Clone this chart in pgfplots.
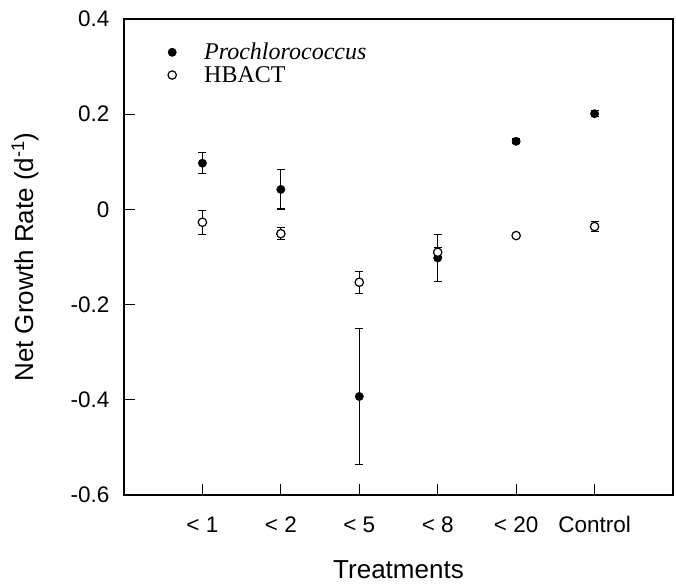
\documentclass[border=0pt]{standalone}
\usepackage{pgfplots}
\pgfplotsset{compat=1.18}
\usepackage{fontspec}
\setmainfont{Liberation Sans}
\newfontfamily\legfont{Liberation Serif}
\begin{document}
\begin{tikzpicture}
\begin{axis}[
  scale only axis,
  width=549pt, height=476pt,
  xmin=0, xmax=7, ymin=-0.6, ymax=0.4,
  axis line style={line width=1.3pt},
  xtick={1,2,3,4,5,6},
  xticklabels={{< 1},{< 2},{< 5},{< 8},{< 20},Control},
  ytick={-0.6,-0.4,-0.2,0,0.2,0.4},
  yticklabels={-0.6,-0.4,-0.2,0,0.2,0.4},
  tick align=inside,
  major tick length=11pt,
  xtick pos=lower, ytick pos=left,
  tick style={line width=1pt, black},
  ticklabel style={font=\fontsize{22.5}{26}\selectfont},
  xticklabel style={yshift=-18pt},
  yticklabel style={xshift=-11pt},
  /pgf/number format/assume math mode=true,
  xlabel={Treatments},
  ylabel={Net Growth Rate (d\textsuperscript{-1})},
  every axis x label/.style={at={(axis description cs:0.5,0)}, anchor=center, yshift=-75pt,
    font=\fontsize{26}{30}\selectfont},
  every axis y label/.style={at={(axis description cs:-0.1803,0.5)}, anchor=center, rotate=90,
    font=\fontsize{26}{30}\selectfont},
  legend style={draw=none, fill=none, at={(axis description cs:0,1)}, anchor=north west,
    xshift=43pt, yshift=-23pt, font=\legfont\fontsize{24}{24}\selectfont, row sep=3pt,
    inner sep=0pt, nodes={inner sep=1pt}},
  legend cell align=left,
  legend image code/.code={\path[draw=none,fill=none] (-5pt,0pt) -- (31pt,0pt); \draw[#1, only marks] plot coordinates {(0pt,0pt)};},
]
\addplot[only marks, mark=*, mark size=4.2pt, black,
  error bars/.cd, y dir=both, y explicit,
  error bar style={line width=1.2pt},
  error mark options={rotate=90, mark size=4pt, line width=1.2pt}]
  table[x=x, y=y, y error=e] {
x y e
1 0.097 0.022
2 0.042 0.041
3 -0.393 0.143
4 -0.102 0.050
5 0.143 0.005
6 0.201 0.006
};
\addlegendentry{\textit{Prochlorococcus}}
\addplot[only marks, mark=*, mark size=4.2pt, black, mark options={fill=white, line width=1.2pt},
  error bars/.cd, y dir=both, y explicit,
  error bar style={line width=1.2pt},
  error mark options={rotate=90, mark size=4pt, line width=1.2pt}]
  table[x=x, y=y, y error=e] {
x y e
1 -0.027 0.025
2 -0.051 0.013
3 -0.153 0.023
4 -0.090 0.010
5 -0.055 0.000
6 -0.036 0.010
};
\addlegendentry{HBACT}
\end{axis}
\pgfresetboundingbox
\path ([xshift=-124pt,yshift=-91pt]current axis.south west) rectangle ([xshift=3pt,yshift=19pt]current axis.north east);
\end{tikzpicture}
\end{document}
